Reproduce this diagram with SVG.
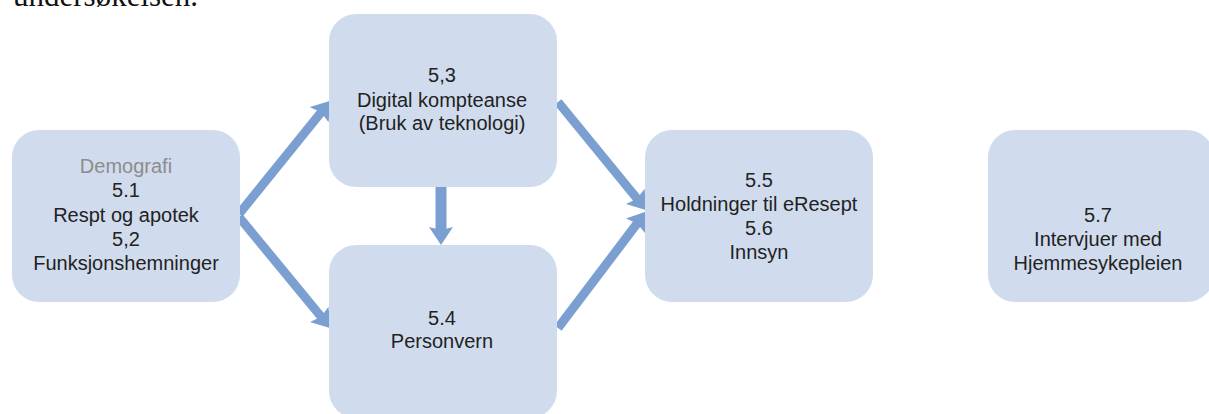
<svg xmlns="http://www.w3.org/2000/svg" width="1209" height="414" viewBox="0 0 1209 414">
<style>
.box{fill:#d0dcee;}
.t{font-family:"Liberation Sans",Arial,sans-serif;font-size:20px;fill:#222;text-anchor:middle;}
.g{fill:#8c8c8c;}
.arr{stroke:#7b9fd0;stroke-width:9;fill:none;marker-end:url(#ah);}
.cap{font-family:"Liberation Serif","Times New Roman",serif;font-size:31px;fill:#111;}
</style>
<defs>
<marker id="ah" markerUnits="userSpaceOnUse" markerWidth="20" markerHeight="26" refX="6" refY="12" orient="auto">
<path d="M0,0 L18,12 L0,24 L3,12 z" fill="#7b9fd0"/>
</marker>
</defs>
<text class="cap" x="13" y="6">undersøkelsen.</text>
<g id="connectors">
<line class="arr" x1="239" y1="214" x2="323" y2="110"/>
<line class="arr" x1="239" y1="217" x2="323" y2="319"/>
<line class="arr" x1="441" y1="187" x2="441" y2="233" style="stroke-width:11"/>
<line class="arr" x1="558" y1="102" x2="639" y2="201"/>
<line class="arr" x1="558" y1="328" x2="639" y2="221"/>
</g>
<g id="n1">
<rect class="box" x="12" y="130" width="228" height="172" rx="27"/>
<text class="t g" x="126" y="173">Demografi</text>
<text class="t" x="126" y="197">5.1</text>
<text class="t" x="126" y="222">Respt og apotek</text>
<text class="t" x="126" y="246">5,2</text>
<text class="t" x="126" y="270">Funksjonshemninger</text>
</g>
<g id="n2">
<rect class="box" x="329" y="14" width="228" height="173" rx="27"/>
<text class="t" x="442" y="82">5,3</text>
<text class="t" x="442" y="107">Digital kompteanse</text>
<text class="t" x="442" y="130">(Bruk av teknologi)</text>
</g>
<g id="n3">
<rect class="box" x="329" y="245" width="228" height="173" rx="27"/>
<text class="t" x="442" y="325">5.4</text>
<text class="t" x="442" y="348">Personvern</text>
</g>
<g id="n4">
<rect class="box" x="645" y="130" width="228" height="172" rx="27"/>
<text class="t" x="759" y="187">5.5</text>
<text class="t" x="759" y="211">Holdninger til eResept</text>
<text class="t" x="759" y="235">5.6</text>
<text class="t" x="759" y="259">Innsyn</text>
</g>
<g id="n5">
<rect class="box" x="988" y="130" width="226" height="172" rx="27"/>
<text class="t" x="1098" y="222">5.7</text>
<text class="t" x="1098" y="246">Intervjuer med</text>
<text class="t" x="1098" y="270">Hjemmesykepleien</text>
</g>
</svg>
